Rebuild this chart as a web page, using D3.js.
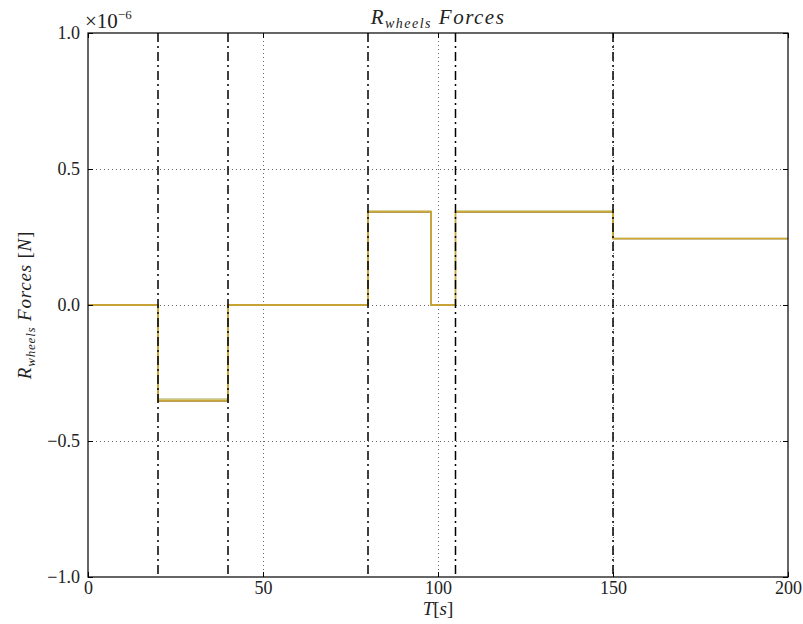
<!DOCTYPE html>
<html><head><meta charset="utf-8">
<script src="https://cdn.jsdelivr.net/npm/d3@7"></script>
<style>body{margin:0;background:#fff}svg{display:block}</style>
</head><body><svg id="c" width="803" height="624"></svg>
<script>
// data (values in units of 1e-6 N)
const times = [0, 20, 40, 80, 98, 105, 150, 200];
const seriesA = [0, -0.345, 0, 0.345, 0, 0.345, 0.245, 0.245]; // light green
const seriesB = [0, -0.353, 0, 0.342, 0, 0.342, 0.243, 0.243]; // olive
const seriesC = [0, -0.350, 0, 0.344, 0, 0.344, 0.245, 0.245]; // yellow
const eventTimes = [20, 40, 80, 105, 150];
const xTicks = [0, 50, 100, 150, 200];
const yTicks = [-1.0, -0.5, 0.0, 0.5, 1.0];
const yTickLabels = ["\u22121.0", "\u22120.5", "0.0", "0.5", "1.0"];

const svg = d3.select("#c");
const L = 88, R = 788, T = 33, B = 577;
const x = d3.scaleLinear().domain([0, 200]).range([L, R]);
const y = d3.scaleLinear().domain([-1, 1]).range([B, T]);
const serif = "'Liberation Serif','DejaVu Serif',serif";

// grid
const g = svg.append("g");
g.selectAll("line.gx").data(xTicks.slice(1, -1)).enter().append("line")
  .attr("x1", d => x(d) + 0.5).attr("x2", d => x(d) + 0.5).attr("y1", T).attr("y2", B)
  .attr("stroke", "#000").attr("stroke-width", 0.6).attr("stroke-dasharray", "1,3");
g.selectAll("line.gy").data(yTicks.slice(1, -1)).enter().append("line")
  .attr("y1", d => y(d) + 0.5).attr("y2", d => y(d) + 0.5).attr("x1", L).attr("x2", R)
  .attr("stroke", "#000").attr("stroke-width", 0.6).attr("stroke-dasharray", "1,3");

// step lines
function stepPts(vals) { return times.map((t, i) => [t, vals[i]]); }
const line = d3.line().x(d => x(d[0])).y(d => y(d[1])).curve(d3.curveStepAfter);
[[seriesA, "#b8c890"], [seriesB, "#a08020"], [seriesC, "#d0a830"]].forEach(([v, c]) => {
  svg.append("path").attr("d", line(stepPts(v))).attr("fill", "none")
    .attr("stroke", c).attr("stroke-width", 1.3);
});

// event lines (dash-dot)
svg.selectAll("line.ev").data(eventTimes).enter().append("line")
  .attr("x1", d => x(d)).attr("x2", d => x(d)).attr("y1", T).attr("y2", B)
  .attr("stroke", "#000").attr("stroke-width", 1.5).attr("stroke-dasharray", "9,4,2,4");

// frame
svg.append("rect").attr("x", L).attr("y", T).attr("width", R - L).attr("height", B - T)
  .attr("fill", "none").attr("stroke", "#000").attr("stroke-width", 1.2);

// ticks
const xAxisB = d3.axisBottom(x).tickValues(xTicks).tickSizeInner(-5).tickSizeOuter(0).tickPadding(5).tickFormat(d3.format("d"));
const gxb = svg.append("g").attr("transform", `translate(0,${B})`).call(xAxisB);
const xAxisT = d3.axisTop(x).tickValues(xTicks).tickSizeInner(-5).tickSizeOuter(0).tickFormat("");
const gxt = svg.append("g").attr("transform", `translate(0,${T})`).call(xAxisT);
const yAxisL = d3.axisLeft(y).tickValues(yTicks).tickSizeInner(-5).tickSizeOuter(0).tickPadding(8).tickFormat((d, i) => yTickLabels[i]);
const gyl = svg.append("g").attr("transform", `translate(${L},0)`).call(yAxisL);
const yAxisR = d3.axisRight(y).tickValues(yTicks).tickSizeInner(-5).tickSizeOuter(0).tickFormat("");
const gyr = svg.append("g").attr("transform", `translate(${R},0)`).call(yAxisR);
[gxb, gxt, gyl, gyr].forEach(a => {
  a.select(".domain").remove();
  a.selectAll("text").attr("font-family", serif).attr("font-size", 18).attr("fill", "#222");
  a.selectAll("line").attr("stroke", "#000");
});
gxb.selectAll("text").attr("y", 4).attr("dy", "0.71em");

// exponent
const ex = svg.append("text").attr("x", L - 3).attr("y", 28).attr("font-family", serif).attr("font-size", 21).attr("fill", "#222");
ex.append("tspan").text("\u00d710");
ex.append("tspan").attr("font-size", 13).attr("dy", -9).text("\u22126");

// title
const tt = svg.append("text").attr("x", (L + R) / 2).attr("y", 24).attr("text-anchor", "middle")
  .attr("font-family", serif).attr("font-size", 21).attr("font-style", "italic").attr("fill", "#222")
  .attr("letter-spacing", 1.5);
tt.append("tspan").text("R");
tt.append("tspan").attr("font-size", 14).attr("dy", 4).text("wheels");
tt.append("tspan").attr("dy", -4).text(" Forces");

// x label
const xl = svg.append("text").attr("x", (L + R) / 2).attr("y", 615).attr("text-anchor", "middle")
  .attr("font-family", serif).attr("font-size", 19).attr("fill", "#222");
xl.append("tspan").attr("font-style", "italic").text("T");
xl.append("tspan").text("[");
xl.append("tspan").attr("font-style", "italic").text("s");
xl.append("tspan").text("]");

// y label
const yl = svg.append("text").attr("transform", `translate(31,${(T + B) / 2}) rotate(-90)`).attr("text-anchor", "middle")
  .attr("font-family", serif).attr("font-size", 19).attr("fill", "#222").attr("letter-spacing", 0.8);
yl.append("tspan").attr("font-style", "italic").text("R");
yl.append("tspan").attr("font-style", "italic").attr("font-size", 13).attr("dy", 4).text("wheels");
yl.append("tspan").attr("font-style", "italic").attr("dy", -4).text(" Forces ");
yl.append("tspan").text("[");
yl.append("tspan").attr("font-style", "italic").text("N");
yl.append("tspan").text("]");
</script></body></html>
